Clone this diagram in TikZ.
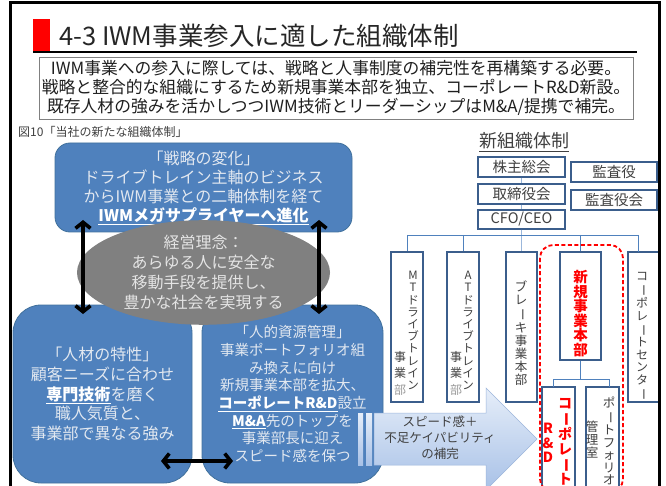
\documentclass[tikz,border=0pt]{standalone}
\usepackage{fontspec}
\usepackage{graphicx}
\setmainfont{Noto Sans CJK JP}
\usetikzlibrary{arrows.meta,shapes.geometric}
\definecolor{boxblue}{HTML}{4F81BD}
\definecolor{boxblueedge}{HTML}{41719C}
\definecolor{lighttxt}{HTML}{E2E8F0}
\definecolor{ellgray}{HTML}{808080}
\definecolor{elltxt}{HTML}{E4E4E4}
\definecolor{orgedge}{HTML}{3B5E8C}
\definecolor{orgline}{HTML}{4F81BD}
\definecolor{orglight}{HTML}{9BB7DB}
\definecolor{txtgray}{HTML}{404040}
\definecolor{arrowtop}{HTML}{E6EEF9}
\definecolor{arrowbot}{HTML}{A8C1E7}
\definecolor{arrowedge}{HTML}{9DB6DC}
\definecolor{newred}{HTML}{FF0000}
\newcommand\vbar{\rotatebox[origin=c]{-90}{ー}}
\tikzset{
  bluebox/.style={draw=boxblueedge, fill=boxblue, line width=0.8pt, text=lighttxt, align=center, inner sep=0pt},
  orgbox/.style={draw=orgedge, fill=white, line width=1.3pt, inner sep=0pt, text=txtgray, font=\fontsize{14.5}{15}\selectfont},
  vtext/.style={align=center, inner sep=0pt, anchor=north, text=txtgray},
  rtext/.style={align=center, inner sep=0pt, anchor=north, text=newred, font=\fontsize{14}{14.5}\selectfont\bfseries},
  dbl/.style={line width=3.6pt, {Straight Barb[length=6pt,width=15pt]}-{Straight Barb[length=6pt,width=15pt]}},
  busline/.style={draw=orgline, line width=0.9pt},
  trunk/.style={draw=orglight, line width=1pt},
}
\begin{document}
\begin{tikzpicture}[x=1pt,y=-1pt]
\useasboundingbox (0,0) rectangle (666,486);
\fill[white] (0,0) rectangle (666,486);

% title
\fill[red] (33,19) rectangle (50,52);
\node[anchor=west, inner sep=0pt, font=\fontsize{25.5}{26}\selectfont, text=black!85] (title) at (59,36) {4-3 IWM事業参入に適した組織体制};
\draw[line width=2pt] (33,52) -- (637,52);

% summary
\node[draw=ellgray, line width=0.9pt, minimum width=594pt, minimum height=62pt, inner sep=0pt, align=center,
      font=\fontsize{16.8}{19}\selectfont, text=black!88] (summary) at (336,88)
  {IWM事業への参入に際しては、戦略と人事制度の補完性を再構築する必要。\\
   戦略と整合的な組織にするため新規事業本部を独立、コーポレートR\&D新設。\\
   既存人材の強みを活かしつつIWM技術とリーダーシップはM\&A/提携で補完。};

% caption
\node[anchor=west, inner sep=0pt, font=\fontsize{12}{12}\selectfont, text=txtgray] (caption) at (18,132) {図10「当社の新たな組織体制」};

% left side boxes
\node[bluebox, rounded corners=15pt, minimum width=297pt, minimum height=89pt, font=\fontsize{16}{19}\selectfont] (strategy) at (203.5,187.5)
  {「戦略の変化」\\ドライブトレイン主軸のビジネス\\からIWM事業との二軸体制を経て\\{\color{white}\underline{\textbf{IWMメガサプライヤーへ進化}}}};
\node[bluebox, rounded corners=28pt, minimum width=179pt, minimum height=178pt, font=\fontsize{16}{19.8}\selectfont] (talent) at (102.5,394)
  {「人材の特性」\\顧客ニーズに合わせ\\{\color{white}\underline{\textbf{専門技術}}}を磨く\\職人気質と、\\事業部で異なる強み};
\node[bluebox, rounded corners=28pt, minimum width=181pt, minimum height=178pt, font=\fontsize{14.5}{17.7}\selectfont] (hrm) at (292.5,394)
  {「人的資源管理」\\事業ポートフォリオ組\\み換えに向け\\新規事業本部を拡大、\\{\color{white}\underline{\textbf{コーポレートR\&D}}}設立\\{\color{white}\underline{\textbf{M\&A}}}先のトップを\\事業部長に迎え\\スピード感を保つ};
\node[ellipse, fill=ellgray, minimum width=253pt, minimum height=95pt, inner sep=0pt, align=center, text=elltxt,
      font=\fontsize{16}{19.7}\selectfont] (philosophy) at (203.5,272.5)
  {経営理念：\\あらゆる人に安全な\\移動手段を提供し、\\豊かな社会を実現する};

% black double arrows
\coordinate (la1) at (83,220);
\coordinate (la2) at (83,314);
\coordinate (ra1) at (319,220);
\coordinate (ra2) at (319,314);
\coordinate (ha1) at (161,461);
\coordinate (ha2) at (233,461);
\draw[dbl] (la1) -- (la2);
\draw[dbl] (ra1) -- (ra2);
\draw[dbl] (ha1) -- (ha2);

% org chart
\node[font=\fontsize{18}{18}\selectfont, text=txtgray, inner sep=0pt] (orgtitle) at (524,142) {\underline{新組織体制}};
\node[orgbox, minimum width=87pt, minimum height=20pt] (kabu) at (521.5,167) {株主総会};
\node[orgbox, minimum width=87pt, minimum height=20pt] (tori) at (521.5,194) {取締役会};
\node[orgbox, minimum width=87pt, minimum height=19pt] (ceo) at (521.5,219.5) {CFO/CEO};
\node[orgbox, minimum width=86pt, minimum height=20pt] (kansa) at (614,172) {監査役};
\node[orgbox, minimum width=86pt, minimum height=20pt] (kansakai) at (614,200) {監査役会};

\node[orgbox, minimum width=32pt, minimum height=150pt] (mt) at (407,327) {};
\node[orgbox, minimum width=32pt, minimum height=150pt] (at) at (463,327) {};
\node[orgbox, minimum width=31pt, minimum height=150pt] (brake) at (521.5,327) {};
\node[orgbox, minimum width=41pt, minimum height=108pt] (newbiz) at (580.5,306) {};
\node[orgbox, minimum width=32pt, minimum height=150pt] (corpc) at (644,327) {};
\node[orgbox, minimum width=33pt, minimum height=113pt] (rnd) at (558.5,443.5) {};
\node[orgbox, minimum width=33pt, minimum height=113pt] (pfo) at (602.5,443.5) {};

% connectors
\draw[trunk] (kabu.south) -- (tori.north);
\draw[trunk] (tori.south) -- (ceo.north);
\coordinate (busmid) at (521.5,235);
\draw[trunk] (ceo.south) -- (busmid) -- (brake.north);
\coordinate (busl) at (407,235);
\coordinate (busr) at (638,235);
\draw[busline] (busl) -- (busr);
\draw[busline] (busl) -- (mt.north);
\draw[busline] (at.north |- busl) -- (at.north);
\draw[busline] (newbiz.north |- busl) -- (newbiz.north);
\draw[busline] (busr) -- (638,252);
\coordinate (subbus) at (580.5,379);
\coordinate (subl) at (553,379);
\coordinate (subr) at (609,379);
\draw[busline] (newbiz.south) -- (subbus);
\draw[busline] (subl) -- (subr);
\draw[busline] (subl) -- (553,387);
\draw[busline] (subr) -- (609,387);

% vertical texts
\node[vtext, font=\fontsize{11.5}{12.2}\selectfont] (mttx) at (413,271) {M\\T\\ド\\ラ\\イ\\ブ\\ト\\レ\\イ\\ン};
\node[vtext, font=\fontsize{12}{16.5}\selectfont] (mttx2) at (400,351) {事\\業\\{\color{black!40}部}};
\node[vtext, font=\fontsize{11.5}{12.2}\selectfont] (attx) at (468,271) {A\\T\\ド\\ラ\\イ\\ブ\\ト\\レ\\イ\\ン};
\node[vtext, font=\fontsize{12}{16.5}\selectfont] (attx2) at (456,351) {事\\業\\{\color{black!40}部}};
\node[vtext, font=\fontsize{12.5}{13}\selectfont] (brtx) at (521,281) {ブ\\レ\\\vbar\\キ\\事\\業\\本\\部};
\node[vtext, text=newred, font=\fontsize{14.5}{14.6}\selectfont\bfseries] (nbtx) at (580.5,270) {新\\規\\事\\業\\本\\部};
\node[vtext, font=\fontsize{12}{12.8}\selectfont] (cctx) at (642,272) {コ\\\vbar\\ポ\\レ\\\vbar\\ト\\セ\\ン\\タ\\\vbar};
\node[rtext] (rndtx) at (565,398) {コ\\\vbar\\ポ\\レ\\\vbar\\ト};
\node[rtext] (rndtx2) at (548,423) {R\\\&\\D};
\node[vtext, font=\fontsize{12.5}{12.5}\selectfont] (pftx) at (609,397) {ポ\\\vbar\\ト\\フ\\ォ\\リ\\オ};
\node[vtext, font=\fontsize{12.5}{13}\selectfont] (pftx2) at (592,421) {管\\理\\室};

% red dashed group
\draw[newred, line width=1.8pt, dash pattern=on 4pt off 2.5pt, rounded corners=13pt] (540,245) rectangle (623,492);

% block arrow
\shade[top color=arrowtop, bottom color=arrowbot] (358,413) rectangle (363,465);
\shade[top color=arrowtop, bottom color=arrowbot] (366,413) rectangle (372,465);
\shade[top color=arrowtop, bottom color=arrowbot, draw=arrowedge, line width=0.5pt]
  (374,413) -- (486,413) -- (486,388) -- (537,439) -- (486,490) -- (486,465) -- (374,465) -- cycle;
\node[align=center, inner sep=0pt, font=\fontsize{12.5}{16}\selectfont, text=txtgray] (gap) at (440,438)
  {スピード感＋\\不足ケイパビリティ\\の補完};

% frame
\draw[line width=3pt, line join=miter] (10,492) -- (10,3) -- (659,3) -- (659,492);
\end{tikzpicture}
\end{document}
